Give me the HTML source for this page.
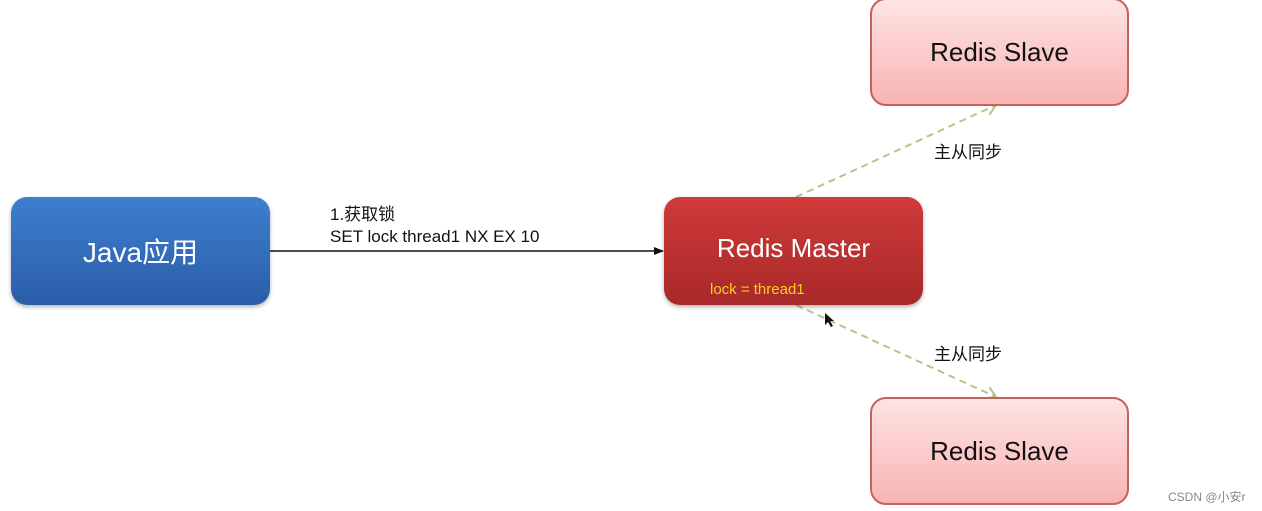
<!DOCTYPE html>
<html><head><meta charset="utf-8"><style>
body{margin:0;width:1262px;height:511px;background:#fff;position:relative;overflow:hidden;font-family:"Liberation Sans","Noto Sans CJK SC",sans-serif}
.b{position:absolute;border-radius:16px;display:flex;align-items:center;justify-content:center;box-sizing:border-box}
.t{position:absolute;font-size:17px;color:#111;line-height:22px}
</style></head><body>
<svg width="1262" height="511" style="position:absolute;left:0;top:0">
<defs><marker id="a" markerWidth="10" markerHeight="10" refX="9" refY="5" orient="auto" markerUnits="userSpaceOnUse"><path d="M0,1 L10,5 L0,9z" fill="#111"/></marker>
<marker id="g" markerWidth="14" markerHeight="14" refX="12" refY="7" orient="auto" markerUnits="userSpaceOnUse"><path d="M2,1 L12,7 L2,13" fill="none" stroke="#b5c48a" stroke-width="2"/></marker></defs>
<line x1="270" y1="251" x2="663" y2="251" stroke="#111" stroke-width="1.5" marker-end="url(#a)"/>
<line x1="796" y1="197" x2="996" y2="105" stroke="#b5c48a" stroke-width="2" stroke-dasharray="7,5" marker-end="url(#g)"/>
<line x1="796" y1="305" x2="996" y2="397" stroke="#b5c48a" stroke-width="2" stroke-dasharray="7,5" marker-end="url(#g)"/>
<path d="M825,313 l0,12 l3,-3 l3,5 l2,-1 l-3,-5 l4,0z" fill="#111"/>
</svg>
<div class="b" style="left:11px;top:197px;width:259px;height:108px;background:linear-gradient(#3d7fcf,#2a5da8);color:#fff;font-size:28px;box-shadow:0 2px 4px rgba(0,0,0,.3)">Java应用</div>
<div class="b" style="left:664px;top:197px;width:259px;height:108px;background:linear-gradient(#d03a3a,#a82828);color:#fff;font-size:26px;box-shadow:0 2px 4px rgba(0,0,0,.3);padding-bottom:5px">Redis Master</div>
<div class="t" style="left:710px;top:279px;color:#f5d020;font-size:15px">lock = thread1</div>
<div class="b" style="left:870px;top:-2px;width:259px;height:108px;background:linear-gradient(#ffe3e3,#f8b4b4);border:2px solid #c86060;color:#111;font-size:26px">Redis Slave</div>
<div class="b" style="left:870px;top:397px;width:259px;height:108px;background:linear-gradient(#ffe3e3,#f8b4b4);border:2px solid #c86060;color:#111;font-size:26px">Redis Slave</div>
<div class="t" style="left:330px;top:204px">1.获取锁</div>
<div class="t" style="left:330px;top:226px">SET lock thread1 NX EX 10</div>
<div class="t" style="left:934px;top:142px">主从同步</div>
<div class="t" style="left:934px;top:344px">主从同步</div>
<div class="t" style="left:1168px;top:486px;font-size:12px;color:#888">CSDN @小安r</div>
</body></html>
